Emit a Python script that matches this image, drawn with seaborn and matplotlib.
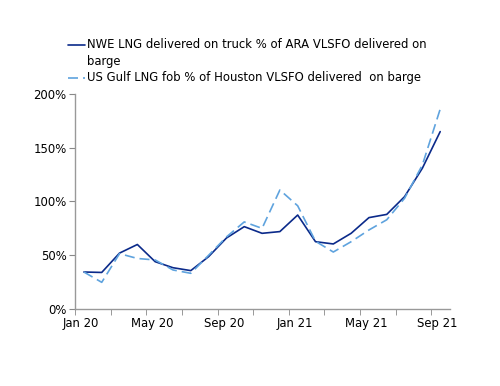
import matplotlib
matplotlib.use("Agg")
import matplotlib.pyplot as plt
import seaborn as sns
import pandas as pd
import numpy as np
from matplotlib.lines import Line2D

months = ["Jan 20", "Feb 20", "Mar 20", "Apr 20", "May 20", "Jun 20", "Jul 20",
          "Aug 20", "Sep 20", "Oct 20", "Nov 20", "Dec 20", "Jan 21", "Feb 21",
          "Mar 21", "Apr 21", "May 21", "Jun 21", "Jul 21", "Aug 21", "Sep 21"]
nwe = [34.4, 34, 52, 60, 44, 38.4, 35.7, 48.7, 66, 76.6, 70.4, 72, 87.4, 62.6,
       60.5, 70.4, 85, 88, 104.5, 131, 165]
usg = [34.4, 24.8, 51.5, 47, 45.6, 36.3, 33.2, 50, 67, 81, 75, 110.7, 96, 63,
       53, 62.6, 73.5, 83, 103, 134, 186]
tick_labels = ["Jan 20", "May 20", "Sep 20", "Jan 21", "May 21", "Sep 21"]
y_ticks = [0, 50, 100, 150, 200]

name1 = "NWE LNG delivered on truck % of ARA VLSFO delivered on\nbarge"
name2 = "US Gulf LNG fob % of Houston VLSFO delivered  on barge"

df = pd.DataFrame({"idx": np.arange(len(months)), "month": months,
                   name1: nwe, name2: usg})
long = df.melt(id_vars=["idx", "month"], var_name="series", value_name="value")

sns.set_style("white")
plt.rcParams["font.family"] = ["DejaVu Sans"]
plt.rcParams["text.color"] = "black"
plt.rcParams["xtick.color"] = "black"
plt.rcParams["ytick.color"] = "black"

W, H = 500, 386
fig = plt.figure(figsize=(5, 3.86), dpi=100)
ax = fig.add_axes([0.15, 0.1995, 0.75, 0.557])

c1, c2 = "#0B2A8A", "#5FA3DE"
sns.lineplot(data=long, x="idx", y="value", hue="series", style="series",
             palette={name1: c1, name2: c2},
             dashes={name1: "", name2: (6, 3)}, linewidth=1.2, ax=ax, legend=False)

ax.set_xlim(-0.5, 20.55)
ax.set_ylim(0, 200)
ax.set_yticks(y_ticks)
ax.set_yticklabels([f"{v}%" for v in y_ticks], fontsize=8.4)
ax.set_xticks(np.arange(-0.5, 20, 2), minor=True)
label_pos = [months.index(m) - 0.15 for m in tick_labels]
ax.set_xticks(label_pos)
ax.set_xticklabels(tick_labels, fontsize=8.4)
ax.tick_params(axis="x", which="major", length=0, pad=6, colors="black")
ax.tick_params(axis="x", which="minor", length=4, color="#888888", direction="out", bottom=True)
ax.tick_params(axis="y", length=4, color="#888888", labelcolor="black", direction="out", left=True, pad=2)
ax.set_xlabel("")
ax.set_ylabel("")
for s in ["top", "right"]:
    ax.spines[s].set_visible(False)
for s in ["left", "bottom"]:
    ax.spines[s].set_color("#999999")
    ax.spines[s].set_linewidth(1.0)

# manual legend (handle aligned with first text line, as in the reference)
def fx(px):
    return px / W

def fy(py):
    return 1 - py / H

legend_rows = [(45, c1, "", name1.split("\n")), (78, c2, (6, 3), [name2])]
for ypix, col, dash, lines in legend_rows:
    ln = Line2D([fx(68), fx(85)], [fy(ypix), fy(ypix)], transform=fig.transFigure,
                color=col, lw=1.2)
    if dash:
        ln.set_dashes(dash)
    fig.add_artist(ln)
    for k, txt in enumerate(lines):
        fig.text(fx(87), fy(ypix + 16 * k), txt, fontsize=8.4, color="black",
                 ha="left", va="center")

fig.savefig("out.png", dpi=100)
